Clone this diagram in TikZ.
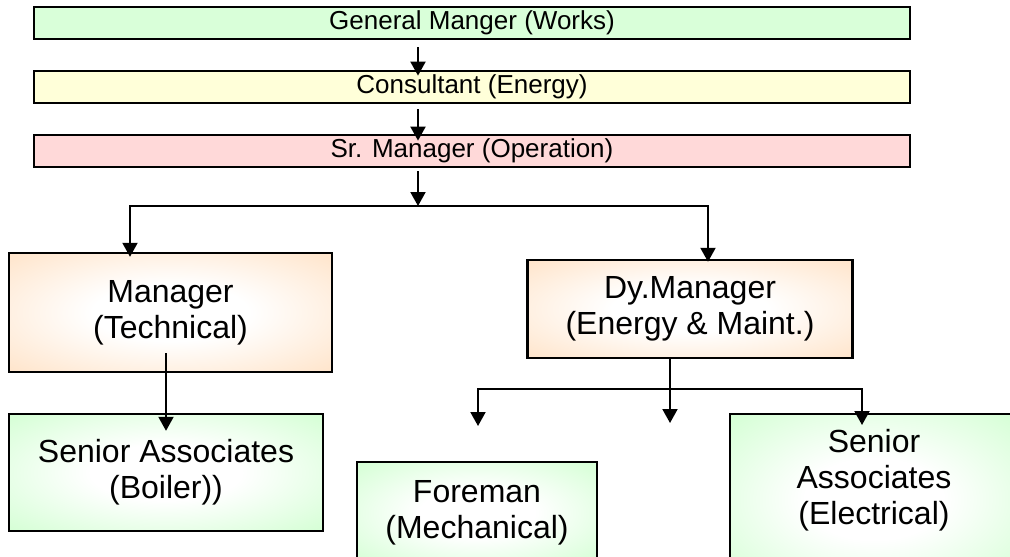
\documentclass[tikz,border=0pt]{standalone}
\usepackage{fontspec}
\setmainfont{Liberation Sans}
\usetikzlibrary{arrows.meta}

\definecolor{gmgreen}{HTML}{D9FFD9}
\definecolor{conyellow}{HTML}{FFFFD9}
\definecolor{srpink}{HTML}{FFD9D9}
\definecolor{peach}{HTML}{FFDFC0}
\definecolor{mint}{HTML}{CCFFCC}
\pgfdeclareradialshading{peachglow}{\pgfpoint{0bp}{0bp}}{color(0bp)=(white); color(12bp)=(white); color(40bp)=(peach); color(50bp)=(peach)}
\pgfdeclareradialshading{mintglow}{\pgfpoint{0bp}{0bp}}{color(0bp)=(white); color(12bp)=(white); color(40bp)=(mint); color(50bp)=(mint)}

\begin{document}
\begin{tikzpicture}[x=1pt, y=-1pt, >={Triangle[width=15pt,length=14pt]},
  bar/.style={draw, line width=2.8pt, minimum width=876pt, minimum height=32pt, inner sep=0pt, font=\fontsize{26}{30}\selectfont},
  bigtext/.style={align=center, inner sep=0pt, font=\fontsize{32}{36}\selectfont},
  unit/.style={bigtext, draw, line width=2.4pt},
  peachunit/.style={unit, shade, shading=peachglow},
  mintunit/.style={unit, shade, shading=mintglow},
  arr/.style={->, line width=2pt}]
\path[use as bounding box] (0,0) rectangle (1010,557);
\clip (0,0) rectangle (1010,557);
% top bars
\node[bar, fill=gmgreen] (gm) at (472,23) {General Manger (Works)};
\node[bar, fill=conyellow] (cons) at (472,87) {Consultant (Energy)};
\node[bar, fill=srpink] (sr) at (472,151) {Sr. Manager (Operation)};
% managers
\node[peachunit, minimum width=323pt, minimum height=119pt] (mgr) at (170.5,312.5) {Manager\\(Technical)};
\node[peachunit, minimum width=325pt, minimum height=98pt] (dy) at (690,309) {Dy.Manager\\(Energy \& Maint.)};
% staff
\node[mintunit, minimum width=314pt, minimum height=117pt] (sab) at (166,472.5) {Senior Associates\\(Boiler))};
\node[mintunit, minimum width=240pt, minimum height=102pt] (fore) at (477,513) {Foreman\\(Mechanical)};
\node[mintunit, minimum width=288pt, minimum height=170pt, anchor=north] (sae) at (874,413) {};
\node[bigtext] (saetext) at (874,480) {Senior\\Associates\\(Electrical)};
% connectors
\coordinate (topx) at (418,0);
\coordinate (split) at (418,206);
\coordinate (lbr) at (130,206);
\coordinate (rbr) at (708,206);
\coordinate (mx) at (166,0);
\coordinate (dsplit) at (670,389);
\coordinate (fl) at (478,389);
\coordinate (fr) at (862,389);
\coordinate (flend) at (478,426);
\coordinate (fmend) at (670,423);
\draw[arr] ([yshift=-7pt]gm.south -| topx) -- ([yshift=-6pt]cons.north -| topx);
\draw[arr] ([yshift=-5pt]cons.south -| topx) -- ([yshift=-7pt]sr.north -| topx);
\draw[arr] ([yshift=-3pt]sr.south -| topx) -- (split);
\draw[arr] (split) -| ([yshift=-5pt]mgr.north -| lbr);
\draw[arr] (split) -| ([yshift=-3pt]dy.north -| rbr);
\draw[arr] ([yshift=20pt]mgr.south -| mx) -- ([yshift=-18pt]sab.north -| mx);
\draw[arr] (dy.south -| dsplit) -- (fmend);
\draw[arr] (dsplit) -| (flend);
\draw[arr] (dsplit) -| ([yshift=-12pt]sae.north -| fr);
\end{tikzpicture}
\end{document}
